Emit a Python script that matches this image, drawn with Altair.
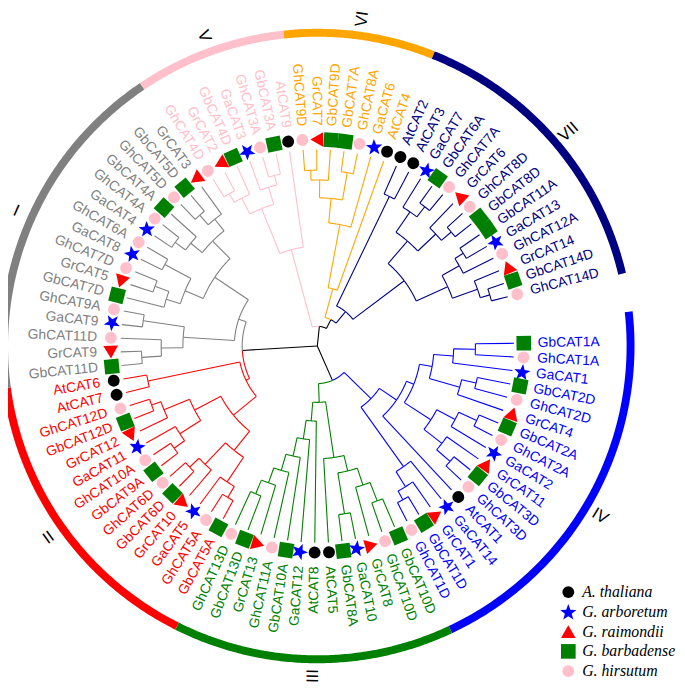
import altair as alt
import pandas as pd
import numpy as np

# ---------------- data ----------------
species = ["A. thaliana", "G. arboretum", "G. raimondii", "G. barbadense", "G. hirsutum"]
prefixes = ["At", "Ga", "Gr", "Gb", "Gh"]
marker_colors = ["#000000", "#0000FF", "#FF0000", "#007F00", "#FFC0CB"]
marker_sizes = [145, 300, 220, 220, 145]

clade_names = ["IV", "III", "II", "I", "V", "VI", "VII"]
clade_colors = ["#0000FF", "#008000", "#FF0000", "#808080", "#FFC0CB", "#FFA500", "#000080"]

# clade trees (clockwise leaf order); number after ")" = node radius
iv_a = "(((GbCAT1A,GhCAT1A)160,GaCAT1)138,((GbCAT2D,GhCAT2D)165,GrCAT4)150)118"
iv_b = "(((GbCAT2A,GhCAT2A)178,GaCAT2)158,(GrCAT11,(GbCAT3D,GhCAT3D)178)160)137"
iv_c = "(GaCAT14,(GrCAT1,(GbCAT1D,GhCAT1D)178)168)150"
tree_IV = "(((" + iv_a + "," + iv_b + ")105,AtCAT1)97," + iv_c + ")76"
tree_III = ("(((((GbCAT10D,GhCAT10D)168,GrCAT8)148,(GaCAT10,GbCAT8A)172)130,AtCAT5)114,"
            "(AtCAT8,(GaCAT12,(GbCAT10A,(GhCAT11A,(GrCAT13,(GbCAT13D,GhCAT13D)162)147)131)114)95)76)57")
tree_II = ("(((((GbCAT5A,GhCAT5A)178,GaCAT5)165,(GrCAT10,(GbCAT6D,GhCAT6D)178)165)135,"
           "(((GbCAT9A,GhCAT10A)178,GaCAT11)165,(GrCAT12,(GbCAT12D,GhCAT12D)178)168)140)110,"
           "(AtCAT7,AtCAT6)175)80")
tree_I = ("((((GbCAT11D,GrCAT9)178,GhCAT11D)158,(GaCAT9,GhCAT9A)178)136,"
          "(((GbCAT7D,(GrCAT5,GhCAT7D)175)160,(GaCAT8,GhCAT6A)175)145,"
          "(((GaCAT4,GhCAT4A)178,GbCAT4A)165,((GhCAT5D,GbCAT5D)178,GrCAT3)165)150)125)84")
tree_V = "((((GhCAT4D,GrCAT2)178,GbCAT4D)168,(GaCAT3,(GhCAT3A,GbCAT3A)178)168)150,AtCAT9)101"
tree_VI = "(((((GhCAT9D,GrCAT7)178,GbCAT9D)168,(GbCAT7A,GhCAT8A)178)150,GaCAT6)125,AtCAT4)60"
vii_a = "((GaCAT7,(GbCAT6A,GhCAT7A)178)165,(GrCAT6,(GhCAT8D,GbCAT8D)178)165)140"
vii_b = "(((GbCAT11A,GaCAT13)175,GhCAT12A)165,(GrCAT14,(GbCAT14D,GhCAT14D)182)172)145"
tree_VII = "((AtCAT2,AtCAT3)168,(" + vii_a + "," + vii_b + ")110)45"
clade_trees = [tree_IV, tree_III, tree_II, tree_I, tree_V, tree_VI, tree_VII]
top_tree = "((IV,III)38,(II,I)76,(V,(VI,VII)30)20)0"

# ---------------- layout constants ----------------
TIP_R, MARK_R, LABEL_R, RING_R, NUM_R = 199, 209, 223, 317, 334
A0, STEP = -0.8, 3.98
LEG_X, LEG_Y0, LEG_DY, LEG_TX = 254, -249, 20, 268

# five-pointed star as a custom symbol path (unit box)
_sp = []
for k in range(10):
    rr = 1.0 if k % 2 == 0 else 0.42
    t = np.radians(-90 + 36 * k)
    _sp.append(f"{rr * np.cos(t):.3f},{rr * np.sin(t) + 0.095:.3f}")
STAR = "M" + "L".join(_sp) + "Z"
shapes = ["circle", STAR, "triangle-up", "square", "circle"]
size_of = dict(zip(species, marker_sizes))


def parse(s):
    pos = [0]

    def node():
        if s[pos[0]] == "(":
            pos[0] += 1
            kids = [node()]
            while s[pos[0]] == ",":
                pos[0] += 1
                kids.append(node())
            pos[0] += 1  # ')'
            st = pos[0]
            while pos[0] < len(s) and (s[pos[0]].isdigit() or s[pos[0]] == "."):
                pos[0] += 1
            return {"name": None, "r": float(s[st:pos[0]]), "kids": kids}
        st = pos[0]
        while pos[0] < len(s) and s[pos[0]] not in "(),":
            pos[0] += 1
        return {"name": s[st:pos[0]], "r": TIP_R, "kids": []}

    return node()


clade_map = {n: parse(t) for n, t in zip(clade_names, clade_trees)}
root = parse(top_tree)


def tag(nd, c):
    nd["clade"] = c
    for k in nd["kids"]:
        tag(k, c)


def graft(nd):
    for i, k in enumerate(nd["kids"]):
        if not k["kids"] and k["name"] in clade_map:
            sub = clade_map[k["name"]]
            nd["kids"][i] = sub
            tag(sub, k["name"])
        else:
            graft(k)


graft(root)

leaves = []


def layout(nd):
    if not nd["kids"]:
        nd["a"] = A0 + STEP * len(leaves)
        leaves.append(nd)
    else:
        for k in nd["kids"]:
            layout(k)
        nd["a"] = (nd["kids"][0]["a"] + nd["kids"][-1]["a"]) / 2


layout(root)
cmap = dict(zip(clade_names, clade_colors))


def col(nd):
    return cmap[nd["clade"]] if "clade" in nd else "#000000"


def xy(r, a):
    t = np.radians(a)
    return r * np.cos(t), -r * np.sin(t)


rows = []
seg = [0]


def add_seg(pts, c):
    for i, (r, a) in enumerate(pts):
        x, y = xy(r, a)
        rows.append({"seg": seg[0], "ord": i, "x": x, "y": y, "clr": c})
    seg[0] += 1


def walk(nd, parent_r=None):
    if parent_r is not None:
        add_seg([(parent_r, nd["a"]), (nd["r"], nd["a"])], col(nd))
    for k in nd["kids"]:
        n = max(2, int(abs(k["a"] - nd["a"]) / 0.5) + 1)
        add_seg([(nd["r"], a) for a in np.linspace(nd["a"], k["a"], n)], col(k))
        walk(k, nd["r"])


walk(root)
tree_df = pd.DataFrame(rows)

# leaves: markers and labels
lab_rows, mk_rows = [], []
for lf in leaves:
    a = lf["a"]
    sp = species[prefixes.index(lf["name"][:2])]
    mx, my = xy(MARK_R, a)
    mk_rows.append({"x": mx, "y": my, "species": sp, "sz": size_of[sp], "rot": a % 360})
    lx, ly = xy(LABEL_R, a)
    right = np.cos(np.radians(a)) >= 0
    lab_rows.append({"x": lx, "y": ly, "label": lf["name"], "clr": col(lf),
                     "rot": (a % 360) if right else ((a + 180) % 360), "side": "R" if right else "L"})
mk_df = pd.DataFrame(mk_rows)
lab_df = pd.DataFrame(lab_rows)

# legend rows
leg_df = pd.DataFrame({"species": species,
                       "sz": marker_sizes,
                       "x": [LEG_X] * len(species),
                       "tx": [LEG_TX] * len(species),
                       "y": [LEG_Y0 - LEG_DY * i for i in range(len(species))]})

# outer ring arcs and numerals
ring_rows, num_rows = [], []
for ci, c in enumerate(clade_names):
    idx = [i for i, lf in enumerate(leaves) if lf["clade"] == c]
    a1 = leaves[idx[0]]["a"] - STEP / 2
    a2 = leaves[idx[-1]]["a"] + STEP / 2
    if c == "IV":
        a1 -= 3.5
    if c == "VII":
        a2 -= 0.8
    for j, a in enumerate(np.linspace(a1, a2, 120)):
        x, y = xy(RING_R, a)
        ring_rows.append({"seg": ci, "ord": j, "x": x, "y": y, "clr": clade_colors[ci]})
    am = (leaves[idx[0]]["a"] + leaves[idx[-1]]["a"]) / 2
    nx, ny = xy(NUM_R, am)
    right = np.cos(np.radians(am)) >= 0
    num_rows.append({"x": nx, "y": ny, "label": c,
                     "rot": (am % 360) if right else ((am + 180) % 360)})
ring_df = pd.DataFrame(ring_rows)
num_df = pd.DataFrame(num_rows)

# ---------------- chart ----------------
W, H = 677, 682
CX, CY = 313, 338
xs = alt.Scale(domain=[-CX, W - CX], nice=False, zero=False)
ys = alt.Scale(domain=[-(H - CY), CY], nice=False, zero=False)
X = alt.X("x:Q", scale=xs, axis=None)
Y = alt.Y("y:Q", scale=ys, axis=None)
fill_enc = alt.Fill("species:N", scale=alt.Scale(domain=species, range=marker_colors), legend=None)
shape_enc = alt.Shape("species:N", scale=alt.Scale(domain=species, range=shapes), legend=None)
size_enc = alt.Size("sz:Q", scale=None)

tree = alt.Chart(tree_df).mark_line(strokeWidth=1.1).encode(
    x=X, y=Y, detail="seg:N", order="ord:Q", color=alt.Color("clr:N", scale=None))

ring = alt.Chart(ring_df).mark_line(strokeWidth=8, strokeCap="butt").encode(
    x=X, y=Y, detail="seg:N", order="ord:Q", color=alt.Color("clr:N", scale=None))

marks = alt.Chart(mk_df).mark_point(filled=True, opacity=1, strokeWidth=0).encode(
    x=X, y=Y, fill=fill_enc, shape=shape_enc, size=size_enc,
    angle=alt.Angle("rot:Q", scale=None),
)

lab_r = alt.Chart(lab_df).transform_filter(alt.datum.side == "R").mark_text(
    align="left", baseline="middle", font="Liberation Sans", fontSize=14).encode(
    x=X, y=Y, text="label:N", color=alt.Color("clr:N", scale=None), angle=alt.Angle("rot:Q", scale=None))
lab_l = alt.Chart(lab_df).transform_filter(alt.datum.side == "L").mark_text(
    align="right", baseline="middle", font="Liberation Sans", fontSize=14).encode(
    x=X, y=Y, text="label:N", color=alt.Color("clr:N", scale=None), angle=alt.Angle("rot:Q", scale=None))

nums = alt.Chart(num_df).mark_text(align="center", baseline="middle", font="Liberation Sans",
                                   fontSize=17, color="#000000").encode(
    x=X, y=Y, text="label:N", angle=alt.Angle("rot:Q", scale=None))

leg_pts = alt.Chart(leg_df).mark_point(filled=True, opacity=1, strokeWidth=0).encode(
    x=X, y=Y, fill=fill_enc, shape=shape_enc, size=size_enc)
leg_txt = alt.Chart(leg_df).mark_text(align="left", baseline="middle", font="Liberation Serif",
                                      fontStyle="italic", fontSize=16, color="#000000").encode(
    x=alt.X("tx:Q", scale=xs, axis=None), y=Y, text="species:N")

chart = alt.layer(ring, tree, marks, lab_r, lab_l, nums, leg_pts, leg_txt).properties(
    width=W, height=H, padding=0, autosize=alt.AutoSizeParams(type="none")
).configure_view(stroke=None)

chart.save("out.html", embed_options={"renderer": "svg", "actions": False})
